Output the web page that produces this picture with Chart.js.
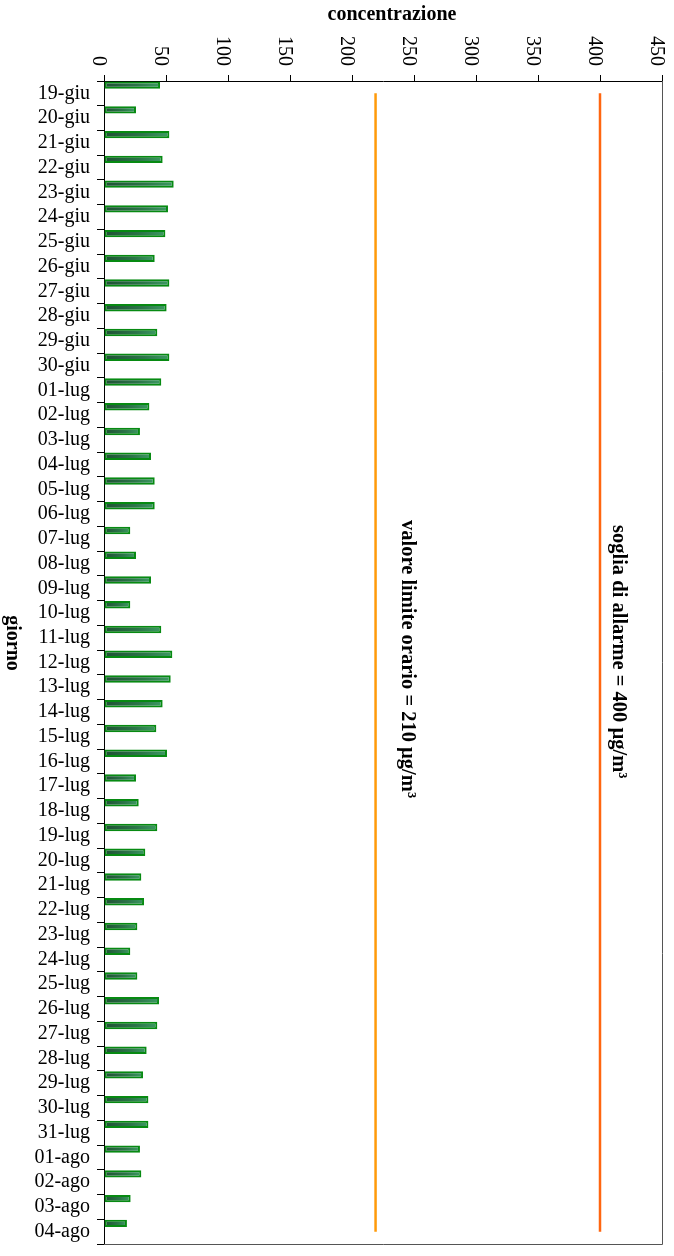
<!DOCTYPE html>
<html>
<head>
<meta charset="utf-8">
<title>concentrazione</title>
<script src="https://cdn.jsdelivr.net/npm/chart.js@4/dist/chart.umd.min.js"></script>
<style>
  body { margin: 0; background: #fff; }
  #wrap { width: 674px; height: 1256px; position: relative; }
</style>
</head>
<body>
<div id="wrap"><canvas id="chart"></canvas></div>
<script>
// Data
const days = [
    '19-giu', '20-giu', '21-giu', '22-giu', '23-giu', '24-giu', '25-giu', '26-giu', '27-giu', '28-giu', '29-giu', '30-giu',
    '01-lug', '02-lug', '03-lug', '04-lug', '05-lug', '06-lug', '07-lug', '08-lug', '09-lug', '10-lug',
    '11-lug', '12-lug', '13-lug', '14-lug', '15-lug', '16-lug', '17-lug', '18-lug', '19-lug', '20-lug',
    '21-lug', '22-lug', '23-lug', '24-lug', '25-lug', '26-lug', '27-lug', '28-lug', '29-lug', '30-lug', '31-lug',
    '01-ago', '02-ago', '03-ago', '04-ago'
];
const concentrations = [
    45.2, 25.8, 52.7, 47.3, 56.2, 51.6, 49.5, 40.9, 52.7, 50.5, 43, 52.7,
    46.2, 36.6, 29, 37.9, 40.9, 40.9, 21.2, 25.8, 37.9, 21.2,
    46.2, 55.1, 53.8, 47.3, 42.2, 50.8, 25.8, 28, 43, 33.3,
    30.1, 32.3, 26.9, 21.2, 26.9, 44.4, 43, 34.4, 31.5, 35.8, 35.8,
    29, 30.1, 21.5, 18.5
];
// limit lines (the 210 line sits a bit right of 200 in the picture)
const limitLine = 219;
const alarmLine = 400;
const limitText = 'valore limite orario = 210 µg/m³';
const alarmText = 'soglia di allarme = 400 µg/m³';
const valueTicks = { min: 0, max: 450, step: 50 };

const serif = '"Liberation Serif", "Times New Roman", serif';

// Bar fill: dark on the left, lighter to the right
function barFill(context) {
    const chart = context.chart;
    const xs = chart.scales.x;
    if (!chart.chartArea || !xs) return '#2e7a4c';
    const x0 = xs.getPixelForValue(0);
    const x1 = xs.getPixelForValue(context.raw || 0);
    if (x1 - x0 < 2) return '#2e7a4c';
    const g = chart.ctx.createLinearGradient(x0, 0, x1, 0);
    g.addColorStop(0, '#1f4f34');
    g.addColorStop(0.6, '#2c7549');
    g.addColorStop(1, '#3d9a63');
    return g;
}

// Texts that Chart.js would not rotate the right way
const rotatedText = {
    id: 'rotatedText',
    afterDraw(chart) {
        const { ctx, chartArea, scales } = chart;
        const xs = scales.x;
        ctx.save();

        // frame on the right and bottom
        ctx.strokeStyle = '#555';
        ctx.lineWidth = 1;
        ctx.beginPath();
        ctx.moveTo(Math.round(chartArea.right) + 0.5, chartArea.top);
        ctx.lineTo(Math.round(chartArea.right) + 0.5, Math.round(chartArea.bottom) + 0.5);
        ctx.lineTo(chartArea.left, Math.round(chartArea.bottom) + 0.5);
        ctx.stroke();

        ctx.fillStyle = '#000';

        // value axis labels, reading top to bottom
        ctx.font = '20px ' + serif;
        ctx.textAlign = 'right';
        ctx.textBaseline = 'middle';
        xs.ticks.forEach(t => {
            const px = xs.getPixelForValue(t.value);
            ctx.save();
            ctx.translate(px - 6, 66);
            ctx.rotate(Math.PI / 2);
            ctx.fillText(String(t.value), 0, 0);
            ctx.restore();
        });

        // axis titles
        ctx.font = 'bold 20px ' + serif;
        ctx.textAlign = 'center';
        ctx.textBaseline = 'middle';
        ctx.fillText('concentrazione', 392, 15);

        ctx.save();
        ctx.translate(12, 643);
        ctx.rotate(Math.PI / 2);
        ctx.fillText('giorno', 0, 0);
        ctx.restore();

        // labels of the two limit lines
        ctx.font = 'bold 20.5px ' + serif;
        ctx.textAlign = 'left';
        ctx.textBaseline = 'alphabetic';
        ctx.save();
        ctx.translate(402, 520);
        ctx.rotate(Math.PI / 2);
        ctx.fillText(limitText, 0, 0);
        ctx.restore();

        ctx.save();
        ctx.translate(613, 525);
        ctx.rotate(Math.PI / 2);
        ctx.fillText(alarmText, 0, 0);
        ctx.restore();

        ctx.restore();
    }
};

const ctx = document.getElementById('chart').getContext('2d');
new Chart(ctx, {
    type: 'bar',
    data: {
        labels: days,
        datasets: [
            {
                label: 'concentrazione',
                data: concentrations,
                backgroundColor: barFill,
                borderColor: '#078a12',
                borderWidth: 2,
                borderSkipped: false,
                barPercentage: 0.9,
                categoryPercentage: 1.0,
                order: 2
            },
            // two empty series keep the bars at the top of each day slot
            { label: 'a', data: [], barPercentage: 0.9, categoryPercentage: 1.0, order: 3 },
            { label: 'b', data: [], barPercentage: 0.9, categoryPercentage: 1.0, order: 4 },
            {
                type: 'line',
                label: 'limite',
                data: [{ x: limitLine, y: days[0] }, { x: limitLine, y: days[days.length - 1] }],
                borderColor: '#ff9a0a',
                borderWidth: 2.5,
                pointRadius: 0,
                order: 1
            },
            {
                type: 'line',
                label: 'allarme',
                data: [{ x: alarmLine, y: days[0] }, { x: alarmLine, y: days[days.length - 1] }],
                borderColor: '#ff6610',
                borderWidth: 2.5,
                pointRadius: 0,
                order: 1
            }
        ]
    },
    options: {
        indexAxis: 'y',
        responsive: true,
        maintainAspectRatio: false,
        animation: false,
        layout: { padding: { left: 0, top: 0, right: 12, bottom: 12 } },
        plugins: {
            legend: { display: false },
            tooltip: { enabled: false }
        },
        scales: {
            x: {
                type: 'linear',
                position: 'top',
                min: valueTicks.min,
                max: valueTicks.max,
                ticks: { stepSize: valueTicks.step, display: false },
                grid: { drawOnChartArea: false, drawTicks: true, tickLength: 6, color: '#000' },
                border: { color: '#000', width: 1 },
                afterFit(scale) { scale.height = 81; }
            },
            y: {
                type: 'category',
                position: 'left',
                offset: true,
                ticks: {
                    color: '#000',
                    padding: 7,
                    autoSkip: false,
                    font: { family: serif, size: 20 }
                },
                grid: { offset: true, drawOnChartArea: false, drawTicks: true, tickLength: 7, color: '#000' },
                border: { color: '#000', width: 1 },
                afterFit(scale) {
                    scale.width = 104;
                    scale.paddingTop = 0;
                    scale.paddingBottom = 0;
                }
            }
        }
    },
    plugins: [rotatedText]
});
</script>
</body>
</html>
